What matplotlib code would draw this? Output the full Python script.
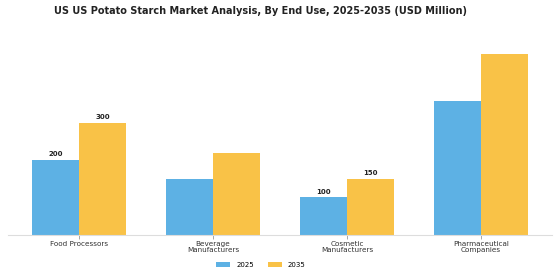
import matplotlib
matplotlib.use("Agg")
import matplotlib.pyplot as plt
import numpy as np

categories = ["Food Processors", "Beverage\nManufacturers", "Cosmetic\nManufacturers", "Pharmaceutical\nCompanies"]
years = ["2025", "2035"]
values_2025 = [200, 150, 100, 360]
values_2035 = [300, 220, 150, 485]
labelled = [0, 2]  # only these groups carry value labels

c2025 = "#5DB1E4"
c2035 = "#F9C247"

fig = plt.figure(figsize=(5.6, 2.8), dpi=100)
ax = fig.add_axes([0.014, 0.162, 0.972, 0.71])

x = np.arange(len(categories))
w = 0.35
b1 = ax.bar(x - w / 2, values_2025, w, color=c2025, label=years[0])
b2 = ax.bar(x + w / 2, values_2035, w, color=c2035, label=years[1])

for i in labelled:
    ax.text(x[i] - w / 2, values_2025[i] + 8, str(values_2025[i]), ha="center", va="bottom",
            fontsize=5, fontweight="bold", color="#222222")
    ax.text(x[i] + w / 2, values_2035[i] + 8, str(values_2035[i]), ha="center", va="bottom",
            fontsize=5, fontweight="bold", color="#222222")

ax.set_xlim(-0.53, 3.53)
ax.set_ylim(0, 535)
ax.set_xticks(x)
ax.set_xticklabels(categories, fontsize=5.2, color="#333333", linespacing=1.05)
ax.tick_params(axis="x", length=3, width=0.6, color="#999999", pad=1.5)
ax.set_yticks([])
for s in ["top", "right", "left"]:
    ax.spines[s].set_visible(False)
ax.spines["bottom"].set_color("#dddddd")
ax.spines["bottom"].set_linewidth(0.8)

fig.text(0.466, 0.96, "US US Potato Starch Market Analysis, By End Use, 2025-2035 (USD Million)",
         fontsize=7.0, fontweight="bold", color="#222222", ha="center", va="center")

fig.legend(handles=[b1, b2], labels=years, loc="lower center", bbox_to_anchor=(0.466, 0.02),
           ncol=2, frameon=False, fontsize=5, handlelength=2.0, handleheight=0.7,
           handletextpad=0.9, columnspacing=2.0)

fig.savefig("out.png", dpi=100)
